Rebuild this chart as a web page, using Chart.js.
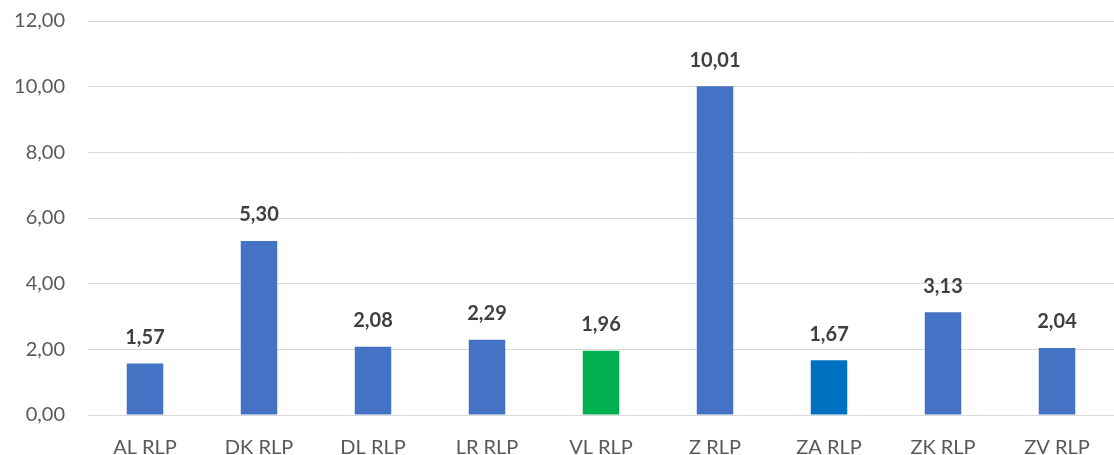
<!DOCTYPE html>
<html>
<head>
<meta charset="utf-8">
<script src="https://cdn.jsdelivr.net/npm/chart.js@4"></script>
<style>
    html, body { margin: 0; padding: 0; background: #fff; }
    #wrap { width: 1114px; height: 455px; }
</style>
</head>
<body>
<div id="wrap"><canvas id="barChart" width="1114" height="455"></canvas></div>
<script>
const categories = ['AL RLP', 'DK RLP', 'DL RLP', 'LR RLP', 'VL RLP', 'Z RLP', 'ZA RLP', 'ZK RLP', 'ZV RLP'];
const values = [1.57, 5.30, 2.08, 2.29, 1.96, 10.01, 1.67, 3.13, 2.04];
const barColors = ['#4472C4', '#4472C4', '#4472C4', '#4472C4', '#00B050', '#4472C4', '#0070C0', '#4472C4', '#4472C4'];
const yTicks = [0, 2, 4, 6, 8, 10, 12];

const fmt = v => v.toFixed(2).replace('.', ',');

// labels above the bars
const valueLabels = {
    id: 'valueLabels',
    afterDatasetsDraw(chart) {
        const ctx = chart.ctx;
        const meta = chart.getDatasetMeta(0);
        ctx.save();
        ctx.font = 'bold 20px Lato';
        ctx.fillStyle = '#404040';
        ctx.textAlign = 'center';
        ctx.textBaseline = 'middle';
        meta.data.forEach((bar, i) => {
            ctx.fillText(fmt(values[i]), bar.x, bar.y - 26);
        });
        ctx.restore();
    }
};

const ctxBar = document.getElementById('barChart').getContext('2d');
const barChart = new Chart(ctxBar, {
    type: 'bar',
    data: {
        labels: categories,
        datasets: [{
            data: values,
            backgroundColor: barColors,
            borderWidth: 0,
            barPercentage: 0.32,
            categoryPercentage: 1
        }]
    },
    options: {
        responsive: false,
        animation: false,
        layout: { padding: { top: 21, right: 0, left: 0, bottom: 0 } },
        plugins: {
            legend: { display: false },
            tooltip: { enabled: false }
        },
        scales: {
            x: {
                grid: { display: false },
                border: { display: false },
                ticks: { color: '#595959', font: { family: 'Lato', size: 20 }, padding: 13 },
                afterFit: scale => { scale.height = 40; }
            },
            y: {
                min: 0,
                max: 12,
                afterBuildTicks: scale => { scale.ticks = yTicks.map(v => ({ value: v })); },
                grid: { color: '#D9D9D9', lineWidth: 1, drawTicks: false },
                border: { display: false },
                ticks: {
                    color: '#595959',
                    font: { family: 'Lato', size: 20 },
                    padding: 23,
                    callback: v => fmt(v)
                },
                afterFit: scale => {
                    scale.width = 88;
                    scale.paddingTop = 0;
                    scale.paddingBottom = 0;
                }
            }
        }
    },
    plugins: [valueLabels]
});
</script>
</body>
</html>
